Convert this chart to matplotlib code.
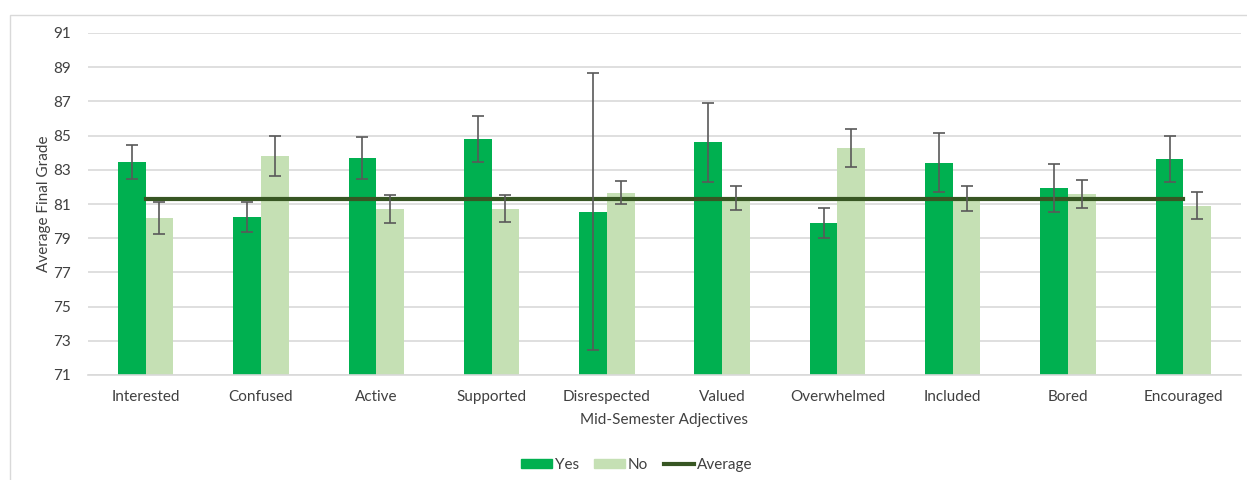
import matplotlib.pyplot as plt
import matplotlib.patches as mpatches
from matplotlib.lines import Line2D
import numpy as np

plt.rcParams['font.family'] = ['Lato', 'DejaVu Sans']

adjectives = ['Interested', 'Confused', 'Active', 'Supported', 'Disrespected',
              'Valued', 'Overwhelmed', 'Included', 'Bored', 'Encouraged']
yes_vals = [83.45, 80.25, 83.7, 84.8, 80.55, 84.6, 79.9, 83.42, 81.95, 83.62]
yes_err = [1.0, 0.87, 1.24, 1.32, 8.1, 2.33, 0.86, 1.73, 1.4, 1.36]
no_vals = [80.18, 83.8, 80.7, 80.72, 81.67, 81.33, 84.27, 81.33, 81.58, 80.9]
no_err = [0.93, 1.15, 0.8, 0.79, 0.68, 0.71, 1.09, 0.75, 0.8, 0.8]
average = 81.3

yes_col = '#00B050'
no_col = '#C5E0B4'
avg_col = '#375623'
err_col = '#595959'
grid_col = '#D9D9D9'
txt_col = '#404040'

W, H = 1247, 480
fig = plt.figure(figsize=(W / 100, H / 100), dpi=100)
ax = fig.add_axes([88 / W, 1 - 375 / H, (1241 - 88) / W, (375 - 33) / H])

# outer chart border
fig.patches.append(mpatches.Rectangle((10 / W, -0.1), 1.2, 1 - 15 / H + 0.1,
                                      transform=fig.transFigure, fill=False,
                                      edgecolor=grid_col, linewidth=1))

x = np.arange(len(adjectives))
w = 0.24
ekw = dict(ecolor=err_col, elinewidth=1.2, capsize=4, capthick=1.2)
ax.bar(x - w / 2, [v - 71 for v in yes_vals], w, bottom=71, color=yes_col, zorder=2)
ax.bar(x + w / 2, [v - 71 for v in no_vals], w, bottom=71, color=no_col, zorder=2)
ax.plot(x, [average] * len(x), color=avg_col, linewidth=3, zorder=3)
ax.errorbar(x - w / 2, yes_vals, yerr=yes_err, fmt='none', zorder=4, **ekw)
ax.errorbar(x + w / 2, no_vals, yerr=no_err, fmt='none', zorder=4, **ekw)

ax.set_xlim(-0.5, len(x) - 0.5)
ax.set_ylim(71, 91)
ax.set_yticks(range(71, 92, 2))
ax.set_xticks(x)
ax.set_xticklabels(adjectives)
ax.tick_params(length=0, labelsize=11, colors=txt_col, pad=11)
ax.tick_params(axis='y', pad=12)
ax.yaxis.grid(True, color=grid_col, linewidth=1.2, zorder=0)
ax.set_axisbelow(True)
for s in ['top', 'right', 'left']:
    ax.spines[s].set_visible(False)
ax.spines['bottom'].set_color(grid_col)
ax.spines['bottom'].set_linewidth(1.2)

ax.set_ylabel('Average Final Grade', fontsize=11, color=txt_col, labelpad=2)
ax.set_xlabel('Mid-Semester Adjectives', fontsize=11, color=txt_col, labelpad=6)

handles = [mpatches.Patch(color=yes_col, label='Yes'),
           mpatches.Patch(color=no_col, label='No'),
           Line2D([], [], color=avg_col, linewidth=3, label='Average')]
fig.legend(handles=handles, loc='center', bbox_to_anchor=(637 / W, 1 - 465 / H),
           ncol=3, frameon=False, fontsize=11, handlelength=2.0, handleheight=0.6,
           handletextpad=0.2, columnspacing=1.0, labelcolor=txt_col)

fig.savefig('out.png', dpi=100)
